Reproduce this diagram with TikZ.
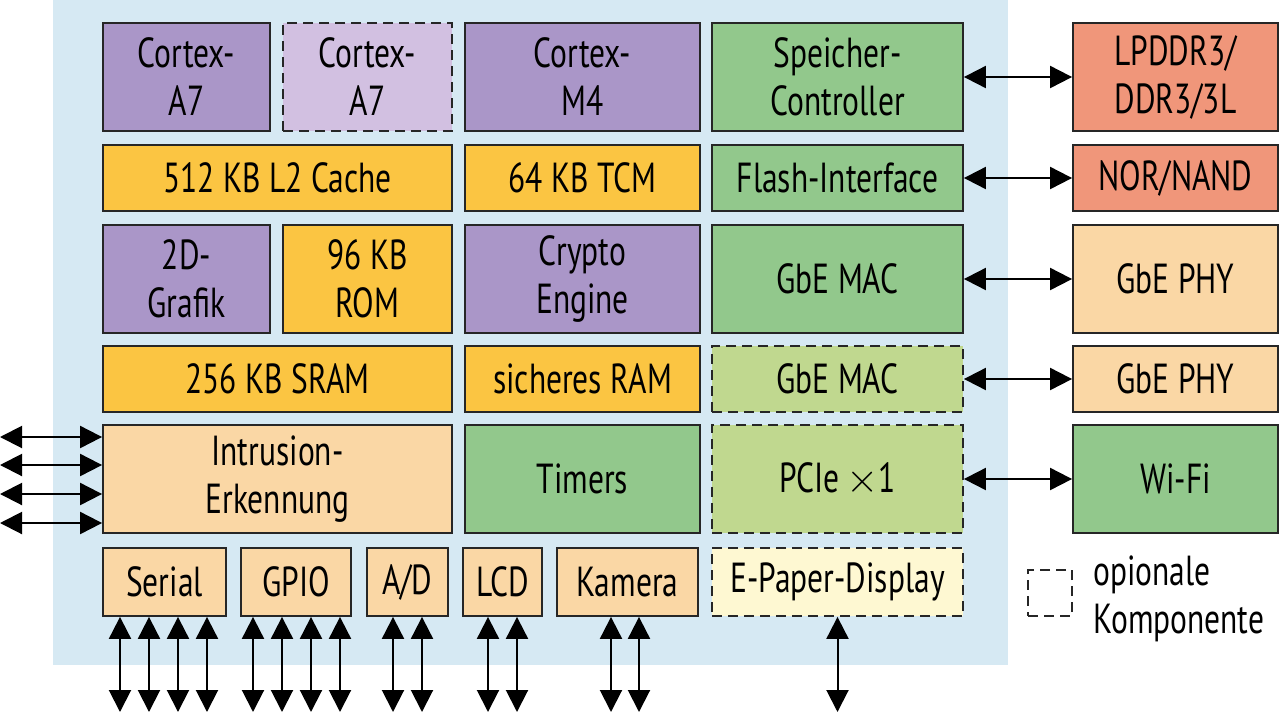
\documentclass[tikz,border=0pt]{standalone}
\usepackage{fontspec}
\setmainfont{PT Sans}[FakeStretch=0.75]
\usetikzlibrary{arrows.meta}
\definecolor{bgblue}{RGB}{214,233,243}
\definecolor{cpu}{RGB}{170,150,200}
\definecolor{cpuopt}{RGB}{210,192,225}
\definecolor{mem}{RGB}{251,197,66}
\definecolor{ifc}{RGB}{146,200,140}
\definecolor{ifcopt}{RGB}{192,216,143}
\definecolor{io}{RGB}{250,215,165}
\definecolor{ext}{RGB}{240,150,122}
\definecolor{paper}{RGB}{254,248,210}

\begin{document}
\begin{tikzpicture}[x=0.5pt,y=-0.5pt,>={Triangle[length=11pt,width=11pt]},
		font=\fontsize{21}{24}\selectfont]
		\tikzstyle{blk}=[draw=black!85,line width=0.9pt,align=center,inner sep=0pt,text=black]
		\tikzstyle{opt}=[blk,dash pattern=on 5pt off 3pt]
		\tikzstyle{tall}=[minimum height=54pt]
		\tikzstyle{flat}=[minimum height=33pt]
		\tikzstyle{low}=[minimum height=34pt]
		\tikzstyle{narrow}=[minimum width=83.5pt]
		\tikzstyle{mid}=[minimum width=117.5pt]
		\tikzstyle{wide}=[minimum width=125.5pt]
		\tikzstyle{outer}=[minimum width=102.5pt]
		\tikzstyle{arr}=[<->,line width=1pt,black]
		
		\useasboundingbox (0,0) rectangle (1280,713);
		\fill[bgblue] (53,0) rectangle (1008,665);
		
		% Zeile 1
		\node[blk, tall, narrow, fill=cpu]   (a7)   at (186.5,77)  {Cortex-\\A7};
		\node[opt, tall, minimum width=84.5pt, fill=cpuopt] (a7b) at (367.5,77) {Cortex-\\A7};
		\node[blk, tall, mid, fill=cpu]      (m4)   at (582.5,77)  {Cortex-\\M4};
		\node[blk, tall, wide, fill=ifc]     (ctrl) at (837.5,77)  {Speicher-\\Controller};
		\node[blk, tall, outer, fill=ext]    (ddr)  at (1175.5,77) {LPDDR3/\\DDR3/3L};
		% Zeile 2
		\node[blk, flat, minimum width=174.5pt, fill=mem] (l2) at (277.5,178) {512 KB L2 Cache};
		\node[blk, flat, mid, fill=mem]      (tcm)  at (582.5,178)  {64 KB TCM};
		\node[blk, flat, wide, fill=ifc]     (fl)   at (837.5,178)  {Flash-Interface};
		\node[blk, flat, outer, fill=ext]    (nor)  at (1175.5,178) {NOR/NAND};
		% Zeile 3
		\node[blk, tall, narrow, fill=cpu]   (gfx)  at (186.5,279)  {2D-\\Grafik};
		\node[blk, tall, minimum width=84.5pt, fill=mem] (rom) at (367.5,279) {96 KB\\ROM};
		\node[blk, tall, mid, fill=cpu]      (cry)  at (582.5,279)  {Crypto\\Engine};
		\node[blk, tall, wide, fill=ifc]     (mac1) at (837.5,279)  {GbE MAC};
		\node[blk, tall, outer, fill=io]     (phy1) at (1175.5,279) {GbE PHY};
		% Zeile 4
		\node[blk, flat, minimum width=174.5pt, fill=mem] (sram) at (277.5,379) {256 KB SRAM};
		\node[blk, flat, mid, fill=mem]      (sram2) at (582.5,379) {sicheres RAM};
		\node[opt, flat, wide, fill=ifcopt]  (mac2) at (837.5,379)  {GbE MAC};
		\node[blk, flat, outer, fill=io]     (phy2) at (1175.5,379) {GbE PHY};
		% Zeile 5
		\node[blk, tall, minimum width=174.5pt, fill=io] (intr) at (277.5,479) {Intrusion-\\Erkennung};
		\node[blk, tall, mid, fill=ifc]      (tim)  at (582.5,479)  {Timers};
		\node[opt, tall, wide, fill=ifcopt]  (pcie) at (837.5,479)  {PCIe\,$\times$1};
		\node[blk, tall, outer, fill=ifc]    (wifi) at (1175.5,479) {Wi-Fi};
		% Zeile 6
		\node[blk, low, minimum width=61.5pt, fill=io] (ser) at (164.5,582) {Serial};
		\node[blk, low, minimum width=55pt, fill=io]   (gpio) at (296,582) {GPIO};
		\node[blk, low, minimum width=40.5pt, fill=io] (ad) at (407.5,582) {A/D};
		\node[blk, low, minimum width=39.5pt, fill=io] (lcd) at (502.5,582) {LCD};
		\node[blk, low, minimum width=70.5pt, fill=io] (cam) at (627.5,582) {Kamera};
		\node[opt, low, wide, fill=paper]    (epd)  at (837.5,582)  {E-Paper-Display};
		
		% Legende
		\node[opt, minimum width=22pt, minimum height=23pt] (leg) at (1050,593) {};
		\node[anchor=west, align=left, inner sep=0pt] (legtxt) at (1093,599) {opionale\\Komponente};
		
		% freie Enden
		\coordinate (l1) at (0,437);
		\coordinate (l2) at (0,465);
		\coordinate (l3) at (0,494);
		\coordinate (l4) at (0,523);
		\coordinate (s1) at (120,712);
		\coordinate (s2) at (149,712);
		\coordinate (s3) at (178,712);
		\coordinate (s4) at (207,712);
		\coordinate (g1) at (253,712);
		\coordinate (g2) at (282,712);
		\coordinate (g3) at (311,712);
		\coordinate (g4) at (340,712);
		\coordinate (d1) at (393,712);
		\coordinate (d2) at (422,712);
		\coordinate (c1) at (488,712);
		\coordinate (c2) at (517,712);
		\coordinate (k1) at (611,712);
		\coordinate (k2) at (639,712);
		\coordinate (e1) at (837.5,712);
		
		\path[arr]	(ctrl)	edge (ddr)
				(fl)	edge (nor)
				(mac1)	edge (phy1)
				(mac2)	edge (phy2)
				(pcie)	edge (wifi)
				(l1)	edge (l1 -| intr.west)
				(l2)	edge (l2 -| intr.west)
				(l3)	edge (l3 -| intr.west)
				(l4)	edge (l4 -| intr.west)
				(s1)	edge (s1 |- ser.south)
				(s2)	edge (s2 |- ser.south)
				(s3)	edge (s3 |- ser.south)
				(s4)	edge (s4 |- ser.south)
				(g1)	edge (g1 |- gpio.south)
				(g2)	edge (g2 |- gpio.south)
				(g3)	edge (g3 |- gpio.south)
				(g4)	edge (g4 |- gpio.south)
				(d1)	edge (d1 |- ad.south)
				(d2)	edge (d2 |- ad.south)
				(c1)	edge (c1 |- lcd.south)
				(c2)	edge (c2 |- lcd.south)
				(k1)	edge (k1 |- cam.south)
				(k2)	edge (k2 |- cam.south)
				(e1)	edge (epd);
\end{tikzpicture}
\end{document}
